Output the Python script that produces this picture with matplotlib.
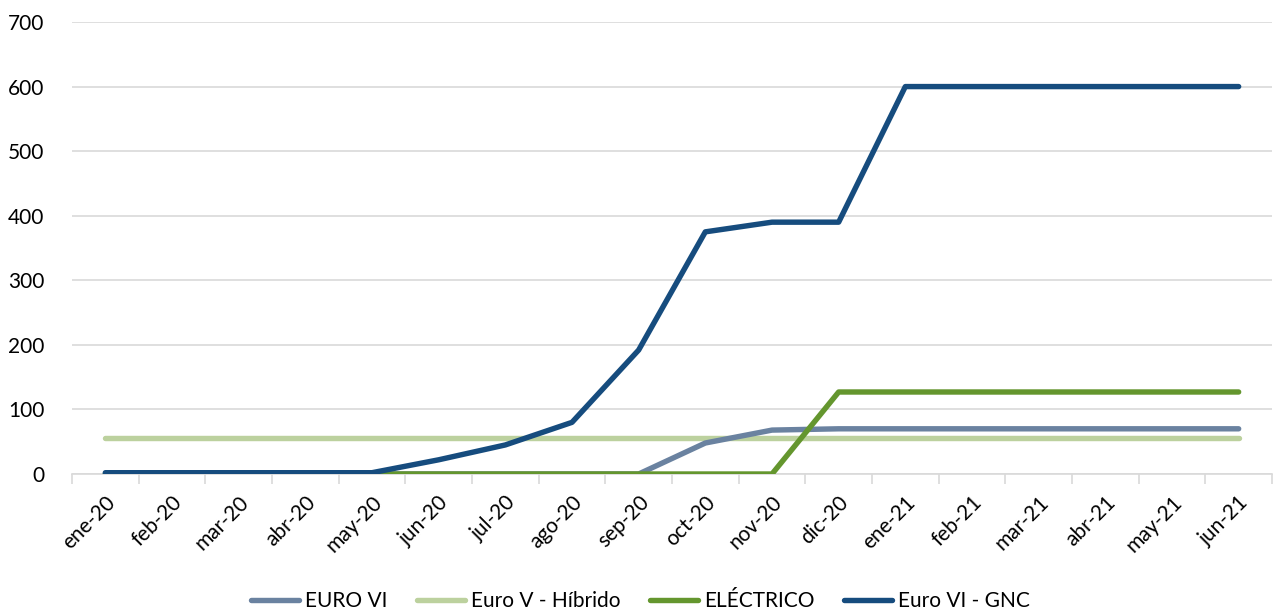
import matplotlib
matplotlib.use("Agg")
import matplotlib.pyplot as plt
import numpy as np

months = ["ene-20", "feb-20", "mar-20", "abr-20", "may-20", "jun-20", "jul-20", "ago-20", "sep-20",
          "oct-20", "nov-20", "dic-20", "ene-21", "feb-21", "mar-21", "abr-21", "may-21", "jun-21"]
euro_vi = [0, 0, 0, 0, 0, 0, 0, 0, 0, 48, 68, 70, 70, 70, 70, 70, 70, 70]
euro_v_hibrido = [56] * 18
electrico = [0, 0, 0, 0, 0, 0, 0, 0, 0, 0, 0, 127, 127, 127, 127, 127, 127, 127]
euro_vi_gnc = [2, 2, 2, 2, 2, 22, 45, 80, 192, 375, 390, 390, 600, 600, 600, 600, 600, 600]

plt.rcParams['font.family'] = ['Lato', 'DejaVu Sans']

fig = plt.figure(figsize=(12.81, 6.12), dpi=100)
ax = fig.add_axes([72/1281, 1-474/612, 1200/1281, 452/612])

x = np.arange(len(months))
lw = 3.9
ax.plot(x, euro_v_hibrido, color="#bcd19e", lw=lw, solid_capstyle="round", label="Euro V - Híbrido", zorder=2)
ax.plot(x, euro_vi, color="#6a82a0", lw=lw, solid_capstyle="round", label="EURO VI", zorder=3)
ax.plot(x, electrico, color="#64962e", lw=lw, solid_capstyle="round", label="ELÉCTRICO", zorder=4)
ax.plot(x, euro_vi_gnc, color="#164c7e", lw=lw, solid_capstyle="round", label="Euro VI - GNC", zorder=5)

ax.set_xlim(-0.5, len(months) - 0.5)
ax.set_ylim(0, 700)
ax.set_yticks(range(0, 701, 100))
ax.yaxis.grid(True, color="#d9d9d9", lw=1.2)
ax.set_axisbelow(True)
for s in ["left", "right", "top"]:
    ax.spines[s].set_visible(False)
ax.spines["bottom"].set_color("#d9d9d9")
ax.spines["bottom"].set_linewidth(1.2)

ax.set_xticks(x)
ax.set_xticklabels(months, rotation=45, ha="right", rotation_mode="anchor", fontsize=15)
ax.set_xticks(np.arange(-0.5, len(months)), minor=True)
ax.tick_params(axis="x", which="major", length=0, pad=13)
ax.tick_params(axis="x", which="minor", length=7, color="#d9d9d9", width=1.2)
ax.tick_params(axis="y", length=0, labelsize=15, pad=20)

handles, labels = ax.get_legend_handles_labels()
order = [1, 0, 2, 3]
fig.legend([handles[i] for i in order], [labels[i] for i in order], loc="center",
           bbox_to_anchor=(0.5, 0.018), ncol=4, frameon=False, fontsize=15,
           handlelength=2.3, handletextpad=0.3, columnspacing=1.4)

fig.savefig("out.png", dpi=100)
